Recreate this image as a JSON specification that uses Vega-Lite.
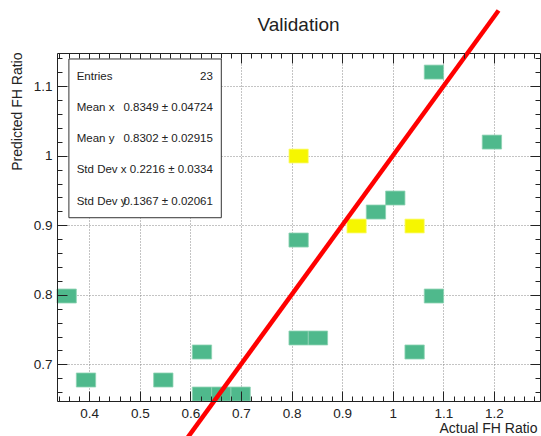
{
  "$schema": "https://vega.github.io/schema/vega-lite/v6.json",
  "width": 483,
  "height": 348,
  "autosize": {"type": "none"},
  "padding": {"left": 57, "top": 53, "right": 1, "bottom": 35},
  "background": "white",
  "title": {"text": "Validation", "font": "Liberation Sans", "fontSize": 19, "fontWeight": "normal", "color": "#222", "anchor": "middle", "baseline": "alphabetic", "offset": -48},
  "datasets": {
    "cells": [
      {"xlo": 0.3364, "xhi": 0.3746, "ylo": 0.7882, "yhi": 0.8083, "n": 1},
      {"xlo": 0.3746, "xhi": 0.4128, "ylo": 0.6673, "yhi": 0.6875, "n": 1},
      {"xlo": 0.5274, "xhi": 0.5656, "ylo": 0.6673, "yhi": 0.6875, "n": 1},
      {"xlo": 0.6038, "xhi": 0.6420, "ylo": 0.7076, "yhi": 0.7278, "n": 1},
      {"xlo": 0.6038, "xhi": 0.6420, "ylo": 0.6472, "yhi": 0.6673, "n": 1},
      {"xlo": 0.6420, "xhi": 0.6802, "ylo": 0.6472, "yhi": 0.6673, "n": 1},
      {"xlo": 0.6802, "xhi": 0.7184, "ylo": 0.6472, "yhi": 0.6673, "n": 1},
      {"xlo": 0.7948, "xhi": 0.8330, "ylo": 0.7278, "yhi": 0.7479, "n": 1},
      {"xlo": 0.8330, "xhi": 0.8712, "ylo": 0.7278, "yhi": 0.7479, "n": 1},
      {"xlo": 0.7948, "xhi": 0.8330, "ylo": 0.8687, "yhi": 0.8889, "n": 1},
      {"xlo": 0.7948, "xhi": 0.8330, "ylo": 0.9896, "yhi": 1.0097, "n": 2},
      {"xlo": 0.9094, "xhi": 0.9476, "ylo": 0.8889, "yhi": 0.9090, "n": 2},
      {"xlo": 0.9476, "xhi": 0.9858, "ylo": 0.9090, "yhi": 0.9292, "n": 1},
      {"xlo": 0.9858, "xhi": 1.0240, "ylo": 0.9292, "yhi": 0.9493, "n": 1},
      {"xlo": 1.0240, "xhi": 1.0622, "ylo": 0.8889, "yhi": 0.9090, "n": 2},
      {"xlo": 1.0240, "xhi": 1.0622, "ylo": 0.7076, "yhi": 0.7278, "n": 1},
      {"xlo": 1.0622, "xhi": 1.1004, "ylo": 0.7882, "yhi": 0.8083, "n": 1},
      {"xlo": 1.0622, "xhi": 1.1004, "ylo": 1.1104, "yhi": 1.1305, "n": 1},
      {"xlo": 1.1768, "xhi": 1.2150, "ylo": 1.0097, "yhi": 1.0298, "n": 1}
    ],
    "fit": [
      {"actual": 0.58, "predicted": 0.58},
      {"actual": 1.209, "predicted": 1.209}
    ],
    "stats": [
      {"stat": "Entries", "val": "23"},
      {"stat": "Mean x", "val": "0.8349 ± 0.04724"},
      {"stat": "Mean y", "val": "0.8302 ± 0.02915"},
      {"stat": "Std Dev x", "val": "0.2216 ± 0.0334"},
      {"stat": "Std Dev y", "val": "0.1367 ± 0.02061"}
    ]
  },
  "layer": [
    {
      "layer": [
        {
          "data": {"name": "cells"},
          "transform": [{"filter": "datum.n == 1"}],
          "mark": {"type": "rect", "stroke": "#8fd3b4", "strokeWidth": 0.8},
          "encoding": {
            "x": {"field": "xlo", "type": "quantitative", "scale": {"domain": [0.3364, 1.2909], "nice": false, "zero": false},
              "axis": {"orient": "bottom", "zindex": 1, "values": [0.4, 0.5, 0.6, 0.7, 0.8, 0.9, 1, 1.1, 1.2], "format": "~g", "tickSize": -10, "labelPadding": 15, "grid": false, "domain": true,
                "title": "Actual FH Ratio", "titleFontSize": 14, "titleAlign": "right", "titleBaseline": "alphabetic", "titleX": 480, "titleY": 31, "titleAnchor": "end"}},
            "x2": {"field": "xhi"},
            "y": {"field": "ylo", "type": "quantitative", "scale": {"domain": [0.6472, 1.1479], "nice": false, "zero": false},
              "axis": {"orient": "left", "zindex": 1, "values": [0.7, 0.8, 0.9, 1, 1.1], "format": "~g", "tickSize": -10, "labelPadding": 15, "grid": false, "domain": true,
                "title": "Predicted FH Ratio", "titleFontSize": 14, "titleAlign": "right", "titleBaseline": "alphabetic", "titleAngle": 270, "titleX": -36, "titleY": -1, "titleAnchor": "end"}},
            "y2": {"field": "yhi"},
            "color": {"field": "n", "type": "ordinal", "scale": {"domain": [1, 2], "range": ["#4fb98c", "#f6f600"]}, "legend": null}
          }
        },
        {
          "data": {"name": "cells"},
          "transform": [{"filter": "datum.n == 2"}],
          "mark": {"type": "rect", "stroke": "#fbfb80", "strokeWidth": 0.8},
          "encoding": {
            "x": {"field": "xlo", "type": "quantitative", "scale": {"domain": [0.3364, 1.2909], "nice": false, "zero": false},
              "axis": {"orient": "top", "zindex": 0, "values": [0.4, 0.5, 0.6, 0.7, 0.8, 0.9, 1, 1.1, 1.2], "tickSize": -10, "labels": false, "grid": true, "domain": true, "title": null}},
            "x2": {"field": "xhi"},
            "y": {"field": "ylo", "type": "quantitative", "scale": {"domain": [0.6472, 1.1479], "nice": false, "zero": false},
              "axis": {"orient": "right", "zindex": 0, "values": [0.7, 0.8, 0.9, 1, 1.1], "tickSize": -10, "labels": false, "grid": true, "domain": true, "title": null}},
            "y2": {"field": "yhi"},
            "color": {"field": "n", "type": "ordinal", "scale": {"domain": [1, 2], "range": ["#4fb98c", "#f6f600"]}, "legend": null}
          }
        },
        {
          "data": {"values": [{}]},
          "mark": {"type": "rect", "fill": "white", "stroke": "#333", "strokeWidth": 1},
          "encoding": {
            "x": {"datum": 0.3599, "type": "quantitative", "scale": {"domain": [0.3364, 1.2909], "nice": false, "zero": false},
              "axis": {"orient": "top", "zindex": 1, "values": [0.34, 0.36, 0.38, 0.42, 0.44, 0.46, 0.48, 0.52, 0.54, 0.56, 0.58, 0.62, 0.64, 0.66, 0.68, 0.72, 0.74, 0.76, 0.78, 0.82, 0.84, 0.86, 0.88, 0.92, 0.94, 0.96, 0.98, 1.02, 1.04, 1.06, 1.08, 1.12, 1.14, 1.16, 1.18, 1.22, 1.24, 1.26, 1.28], "tickSize": -5, "labels": false, "grid": false, "domain": false, "title": null}},
            "x2": {"datum": 0.6611},
            "y": {"datum": 1.1393, "type": "quantitative", "scale": {"domain": [0.6472, 1.1479], "nice": false, "zero": false},
              "axis": {"orient": "right", "zindex": 1, "values": [0.66, 0.68, 0.72, 0.74, 0.76, 0.78, 0.82, 0.84, 0.86, 0.88, 0.92, 0.94, 0.96, 0.98, 1.02, 1.04, 1.06, 1.08, 1.12, 1.14], "tickSize": -5, "labels": false, "grid": false, "domain": false, "title": null}},
            "y2": {"datum": 0.9109}
          }
        },
        {
          "data": {"name": "fit"},
          "mark": {"type": "line", "color": "#ff0000", "strokeWidth": 4.5, "clip": false},
          "encoding": {
            "x": {"field": "actual", "type": "quantitative", "scale": {"domain": [0.3364, 1.2909], "nice": false, "zero": false},
              "axis": {"orient": "bottom", "zindex": 1, "values": [0.34, 0.36, 0.38, 0.42, 0.44, 0.46, 0.48, 0.52, 0.54, 0.56, 0.58, 0.62, 0.64, 0.66, 0.68, 0.72, 0.74, 0.76, 0.78, 0.82, 0.84, 0.86, 0.88, 0.92, 0.94, 0.96, 0.98, 1.02, 1.04, 1.06, 1.08, 1.12, 1.14, 1.16, 1.18, 1.22, 1.24, 1.26, 1.28], "tickSize": -5, "labels": false, "grid": false, "domain": false, "title": null}},
            "y": {"field": "predicted", "type": "quantitative", "scale": {"domain": [0.6472, 1.1479], "nice": false, "zero": false},
              "axis": {"orient": "left", "zindex": 1, "values": [0.66, 0.68, 0.72, 0.74, 0.76, 0.78, 0.82, 0.84, 0.86, 0.88, 0.92, 0.94, 0.96, 0.98, 1.02, 1.04, 1.06, 1.08, 1.12, 1.14], "tickSize": -5, "labels": false, "grid": false, "domain": false, "title": null}}
          }
        }
      ],
      "resolve": {"axis": {"x": "independent", "y": "independent"}}
    },
    {
      "data": {"name": "stats"},
      "layer": [
        {
          "mark": {"type": "text", "align": "left", "baseline": "middle", "font": "Liberation Sans", "fontSize": 11.5, "color": "#222"},
          "encoding": {
            "x": {"datum": 0.3753, "type": "quantitative", "axis": null},
            "y": {"field": "stat", "type": "ordinal", "sort": null, "axis": null, "scale": {"type": "point", "padding": 0, "range": [23.7, 148.7]}},
            "text": {"field": "stat"}
          }
        },
        {
          "mark": {"type": "text", "align": "right", "baseline": "middle", "font": "Liberation Sans", "fontSize": 11.5, "color": "#222"},
          "encoding": {
            "x": {"datum": 0.6445, "type": "quantitative", "axis": null},
            "y": {"field": "stat", "type": "ordinal", "sort": null, "axis": null},
            "text": {"field": "val"}
          }
        }
      ]
    }
  ],
  "resolve": {"scale": {"y": "independent"}, "axis": {"x": "independent", "y": "independent"}},
  "config": {
    "view": {"stroke": null},
    "axis": {"domainColor": "#222", "tickColor": "#222", "labelFont": "Liberation Sans", "labelFontSize": 13.5, "labelColor": "#222", "titleFont": "Liberation Sans", "titleFontWeight": "normal", "titleColor": "#222", "gridColor": "#888", "gridDash": [1, 2], "gridWidth": 1}
  }
}
